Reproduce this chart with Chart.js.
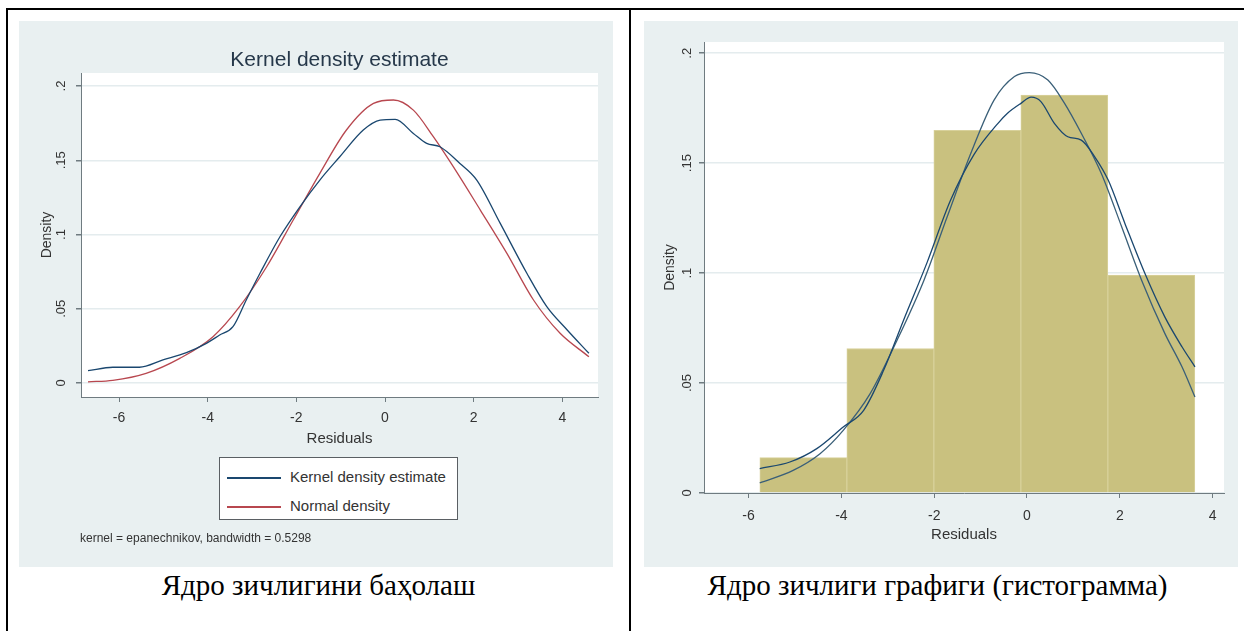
<!DOCTYPE html>
<html>
<head>
<meta charset="utf-8">
<script src="https://cdn.jsdelivr.net/npm/chart.js@4.4.0/dist/chart.umd.min.js"></script>
<style>
  html, body { margin: 0; padding: 0; background: #fff; }
  body { width: 1244px; height: 631px; position: relative; overflow: hidden; font-family: "Liberation Sans", Arial, sans-serif; }
  .rule { position: absolute; background: #000; }
  .panel { position: absolute; background: #e9f0f1; }
  .panel canvas { position: absolute; left: 0; top: 0; }
  .caption { position: absolute; font-family: "Liberation Serif", "Times New Roman", serif; font-size: 29px; line-height: 34px; color: #000; text-align: center; white-space: nowrap; }
  .legend { position: absolute; background: #fff; border: 1px solid #5a5f63; box-sizing: border-box; }
  .legend .swatch { position: absolute; left: 7px; width: 54px; height: 1.5px; }
  .legend .lbl { position: absolute; left: 70px; font-size: 15px; line-height: 18px; color: #333; white-space: nowrap; }
  .note { position: absolute; font-size: 12px; line-height: 14px; color: #333; white-space: nowrap; }
</style>
</head>
<body>

<!-- table lines -->
<div class="rule" style="left:6px; top:8px; width:1238px; height:2px;"></div>
<div class="rule" style="left:6px; top:8px; width:2px; height:623px;"></div>
<div class="rule" style="left:629px; top:8px; width:2px; height:623px;"></div>

<div class="panel" style="left:19px; top:21px; width:594px; height:546px;">
  <canvas id="kdeChart" width="594" height="546"></canvas>
</div>
<div class="panel" style="left:644px; top:21px; width:594px; height:546px;">
  <canvas id="histChart" width="594" height="546"></canvas>
</div>

<div class="legend" id="kdeLegend" style="left:219px; top:457px; width:239px; height:63px;"></div>
<div class="note" style="left:80px; top:531px;">kernel = epanechnikov, bandwidth = 0.5298</div>

<div class="caption" style="left:8px; top:568px; width:621px;">Ядро зичлигини баҳолаш</div>
<div class="caption" style="left:631px; top:568px; width:613px;">Ядро зичлиги графиги (гистограмма)</div>

<script>
// axis ticks
const residTicks = [-6, -4, -2, 0, 2, 4];
const residTickLabels = ['-6', '-4', '-2', '0', '2', '4'];
const densityTicks = [0, 0.05, 0.1, 0.15, 0.2];
const densityTickLabels = ['0', '.05', '.1', '.15', '.2'];

// left chart: kernel density and normal density
const kdeResid = [-6.70, -6.14, -5.54, -5.01, -4.48, -4.03, -3.73, -3.43, -3.13, -2.82, -2.37, -1.92, -1.47, -1.02, -0.49, -0.11, 0.23, 0.64, 0.94, 1.24, 1.69, 2.07, 2.60, 3.20, 3.65, 4.11, 4.60];
const kdeDensity = [0.0083, 0.0106, 0.0106, 0.0155, 0.0204, 0.0267, 0.0323, 0.0379, 0.0559, 0.0739, 0.0985, 0.1187, 0.1367, 0.1524, 0.1704, 0.1771, 0.1776, 0.1681, 0.1614, 0.1591, 0.1479, 0.1367, 0.1075, 0.0739, 0.0514, 0.0357, 0.0200];
const normResid = [-6.70, -6.14, -5.39, -4.63, -3.88, -3.28, -2.67, -2.07, -1.47, -0.87, -0.26, 0.19, 0.64, 1.09, 1.54, 2.15, 2.75, 3.35, 3.95, 4.60];
const normDensity = [0.0008, 0.0018, 0.0065, 0.0166, 0.0312, 0.0514, 0.0783, 0.1098, 0.1412, 0.1704, 0.1883, 0.1906, 0.1838, 0.1659, 0.1457, 0.1165, 0.0873, 0.0559, 0.0335, 0.0177];

// right chart: histogram with kernel and normal curves
const binCenters = [-4.82, -2.945, -1.07, 0.805, 2.68];
const binDensity = [0.0161, 0.0657, 0.1649, 0.1810, 0.0991];
const histKdeResid = [-5.76, -5.11, -4.53, -3.96, -3.52, -3.09, -2.66, -2.15, -1.65, -1.14, -0.63, -0.42, -0.13, 0.09, 0.30, 0.59, 0.88, 1.17, 1.46, 1.75, 2.11, 2.54, 2.97, 3.34, 3.62];
const histKdeDensity = [0.0111, 0.0141, 0.0202, 0.0300, 0.0376, 0.0558, 0.0786, 0.1050, 0.1330, 0.1540, 0.1680, 0.1727, 0.1772, 0.1800, 0.1780, 0.1681, 0.1620, 0.1605, 0.1529, 0.1423, 0.1226, 0.0999, 0.0801, 0.0665, 0.0574];
const histNormResid = [-5.76, -5.04, -4.46, -3.96, -3.38, -2.80, -2.22, -1.72, -1.21, -0.71, -0.27, 0.05, 0.45, 0.81, 1.17, 1.60, 2.04, 2.47, 2.97, 3.34, 3.62];
const histNormDensity = [0.0046, 0.0103, 0.0179, 0.0285, 0.0452, 0.0695, 0.0968, 0.1256, 0.1545, 0.1787, 0.1894, 0.1912, 0.1878, 0.1772, 0.1636, 0.1454, 0.1211, 0.0968, 0.0726, 0.0574, 0.0437];

const seriesNames = ['Kernel density estimate', 'Normal density'];

const navy = '#1a476f';
const maroon = '#b8474f';
const axisColor = '#6f7b80';
const textColor = '#333333';
const gridColor = '#e4ecee';

const toPoints = (xs, ys) => xs.map((x, i) => ({ x: x, y: ys[i] }));

// white plot region like Stata
const plotBg = {
  id: 'plotBg',
  beforeDraw(chart) {
    const { ctx, chartArea: a } = chart;
    ctx.save();
    ctx.fillStyle = '#ffffff';
    ctx.fillRect(a.left, a.top, a.right - a.left, a.bottom - a.top);
    ctx.restore();
  }
};

function xAxis(min, max, tickPad) {
  return {
    type: 'linear', min: min, max: max, offset: false,
    afterBuildTicks: (s) => { s.ticks = residTicks.map((v) => ({ value: v })); },
    afterFit: (s) => { s.height = 60; },
    grid: { drawOnChartArea: false, drawTicks: true, tickLength: 5, tickColor: axisColor, offset: false },
    border: { display: true, color: axisColor, width: 1 },
    ticks: {
      autoSkip: false, minRotation: 0, maxRotation: 0, padding: tickPad, color: textColor,
      font: { family: 'Liberation Sans', size: 14 },
      callback: (v, i) => residTickLabels[i]
    },
    title: { display: true, text: 'Residuals', color: textColor, font: { family: 'Liberation Sans', size: 15 }, padding: { top: 0, bottom: 9 } }
  };
}

function yAxis(min, max, width, tickPad, titlePad) {
  return {
    type: 'linear', min: min, max: max,
    afterBuildTicks: (s) => { s.ticks = densityTicks.map((v) => ({ value: v })); },
    afterFit: (s) => { s.width = width; },
    grid: { drawOnChartArea: true, color: gridColor, lineWidth: 1.5, drawTicks: true, tickLength: 5, tickColor: axisColor },
    border: { display: true, color: axisColor, width: 1 },
    ticks: {
      autoSkip: false, minRotation: 90, maxRotation: 90, crossAlign: 'center', padding: tickPad, color: textColor,
      font: { family: 'Liberation Sans', size: 13 },
      callback: (v, i) => densityTickLabels[i]
    },
    title: { display: true, text: 'Density', color: textColor, font: { family: 'Liberation Sans', size: 14 }, padding: { top: titlePad, bottom: 0 } }
  };
}

function lineSet(label, xs, ys, color) {
  return {
    type: 'line', label: label, data: toPoints(xs, ys),
    borderColor: color, borderWidth: 1.3, pointRadius: 0, fill: false,
    cubicInterpolationMode: 'monotone', order: 0
  };
}

new Chart(document.getElementById('kdeChart'), {
  type: 'line',
  data: {
    datasets: [
      lineSet(seriesNames[0], kdeResid, kdeDensity, navy),
      lineSet(seriesNames[1], normResid, normDensity, maroon)
    ]
  },
  options: {
    responsive: false, animation: false, devicePixelRatio: 1,
    layout: { padding: { left: 0, right: 15, top: 0, bottom: 110 } },
    plugins: {
      legend: { display: false },
      tooltip: { enabled: false },
      title: {
        display: true, fullSize: false, text: 'Kernel density estimate', color: '#26384a',
        font: { family: 'Liberation Sans', size: 21, weight: 'normal' },
        padding: { top: 26.4, bottom: 0.4 }
      }
    },
    scales: {
      x: xAxis(-6.858, 4.805, 7.5),
      y: yAxis(-0.00943, 0.2088, 62, 5.3, 19.3)
    }
  },
  plugins: [plotBg]
});

new Chart(document.getElementById('histChart'), {
  type: 'bar',
  data: {
    datasets: [
      lineSet(seriesNames[0], histKdeResid, histKdeDensity, navy),
      lineSet(seriesNames[1], histNormResid, histNormDensity, '#3a5f78'),
      {
        type: 'bar', label: 'Density', data: toPoints(binCenters, binDensity),
        backgroundColor: '#c9c17f', borderColor: '#d8d19b', borderWidth: 1,
        barPercentage: 1, categoryPercentage: 1, grouped: false, order: 2
      }
    ]
  },
  options: {
    responsive: false, animation: false, devicePixelRatio: 1,
    layout: { padding: { left: 0, right: 14, top: 21, bottom: 14 } },
    plugins: { legend: { display: false }, tooltip: { enabled: false } },
    scales: {
      x: xAxis(-6.961, 4.246, 9.6),
      y: yAxis(0, 0.2051, 60, 3, 17.6)
    }
  },
  plugins: [plotBg]
});

// Stata-style legend box under the left chart
const legendBox = document.getElementById('kdeLegend');
[navy, maroon].forEach((c, i) => {
  const cy = i === 0 ? 19 : 48;
  const sw = document.createElement('div');
  sw.className = 'swatch';
  sw.style.top = cy + 'px';
  sw.style.background = c;
  const lb = document.createElement('div');
  lb.className = 'lbl';
  lb.style.top = (cy - 9) + 'px';
  lb.textContent = seriesNames[i];
  legendBox.appendChild(sw);
  legendBox.appendChild(lb);
});
</script>
</body>
</html>
